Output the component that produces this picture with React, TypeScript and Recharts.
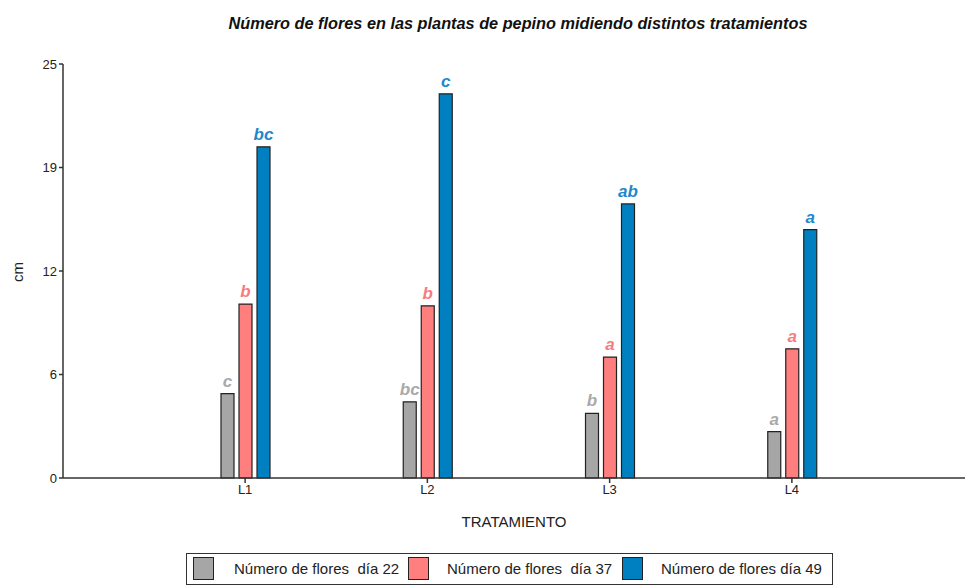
import { BarChart, Bar, XAxis, YAxis, LabelList } from 'recharts';

const categories = ['L1', 'L2', 'L3', 'L4'];
const dia22 = [5.1, 4.6, 3.9, 2.8];
const dia37 = [10.5, 10.4, 7.3, 7.8];
const dia49 = [20.0, 23.2, 16.55, 15.0];
const letras22 = ['c', 'bc', 'b', 'a'];
const letras37 = ['b', 'b', 'a', 'a'];
const letras49 = ['bc', 'c', 'ab', 'a'];
const yTicks = [0, 6.25, 12.5, 18.75, 25];
const yTickLabels = ['0', '6', '12', '19', '25'];

const series = [
  { key: 'd22', letters: 'l22', name: 'Número de flores  día 22', fill: '#a6a6a6', text: '#a9a9a9' },
  { key: 'd37', letters: 'l37', name: 'Número de flores  día 37', fill: '#ff7f7f', text: '#f67d7d' },
  { key: 'd49', letters: 'l49', name: 'Número de flores día 49', fill: '#0080c0', text: '#1e88cc' },
];

const data = categories.map((c, i) => ({
  cat: c,
  d22: dia22[i],
  d37: dia37[i],
  d49: dia49[i],
  l22: letras22[i],
  l37: letras37[i],
  l49: letras49[i],
}));

const font = '"Liberation Sans", Arial, sans-serif';

function letterLabel(color: string) {
  return (props: any) => {
    const { x, y, width, value } = props;
    return (
      <text
        x={x + width / 2}
        y={y - 7}
        textAnchor="middle"
        fill={color}
        fontFamily={font}
        fontSize={17}
        fontWeight="bold"
        fontStyle="italic"
      >
        {value}
      </text>
    );
  };
}

export default function App() {
  return (
    <div style={{ position: 'absolute', left: 0, top: 0, width: 965, height: 586, background: '#fff', fontFamily: font }}>
      <div
        style={{
          position: 'absolute', left: 71, width: 894, top: 14, textAlign: 'center',
          fontSize: 16.3, fontWeight: 'bold', fontStyle: 'italic', color: '#111',
        }}
      >
        Número de flores en las plantas de pepino midiendo distintos tratamientos
      </div>
      <div
        style={{
          position: 'absolute', left: 8, top: 262, width: 20, height: 20, fontSize: 15, color: '#222',
          transform: 'rotate(-90deg)', textAlign: 'center', lineHeight: '20px',
        }}
      >
        cm
      </div>
      <BarChart
        width={965}
        height={586}
        data={data}
        margin={{ top: 64, right: 0, left: 23, bottom: 78 }}
        barSize={13}
        barGap={5}
      >
        <XAxis
          dataKey="cat"
          padding={{ left: 91, right: 82 }}
          height={30}
          stroke="#333"
          strokeWidth={1.5}
          tickSize={5}
          tick={{ fill: '#222', fontSize: 13, fontFamily: font }}
          label={{ value: 'TRATAMIENTO', position: 'bottom', offset: 8, fill: '#222', fontSize: 15, fontFamily: font }}
        />
        <YAxis
          width={40}
          domain={[0, 25]}
          ticks={yTicks}
          interval={0}
          stroke="#333"
          strokeWidth={1.5}
          tickSize={4}
          tick={{ fill: '#222', fontSize: 13, fontFamily: font }}
          tickFormatter={(v: number) => yTickLabels[yTicks.indexOf(v)]}
        />
        {series.map((s) => (
          <Bar key={s.key} dataKey={s.key} name={s.name} fill={s.fill} stroke="#222" strokeWidth={1.2} isAnimationActive={false}>
            <LabelList dataKey={s.letters} content={letterLabel(s.text)} />
          </Bar>
        ))}
      </BarChart>
      <div
        style={{
          position: 'absolute', left: 186, top: 553, width: 645, height: 30,
          border: '1px solid #333', fontSize: 15, color: '#222',
        }}
      >
        {series.map((s, i) => (
          <div key={s.key} style={{ position: 'absolute', left: [6, 221, 435][i], top: 3, display: 'flex', alignItems: 'center' }}>
            <div style={{ width: 21, height: 23, background: s.fill, border: '1px solid #222', boxSizing: 'border-box' }} />
            <span style={{ marginLeft: [20, 18, 18][i], whiteSpace: 'pre' }}>{s.name}</span>
          </div>
        ))}
      </div>
    </div>
  );
}
